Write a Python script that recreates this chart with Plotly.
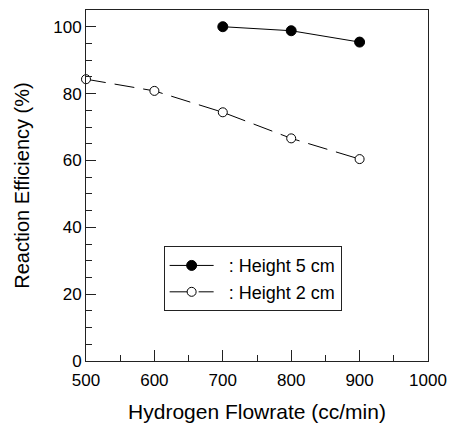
import plotly.graph_objects as go

flow_5cm = [700, 800, 900]
eff_5cm = [100.0, 98.8, 95.4]
flow_2cm = [500, 600, 700, 800, 900]
eff_2cm = [84.3, 80.8, 74.4, 66.6, 60.4]

FONT = "Liberation Sans, Arial, sans-serif"

fig = go.Figure()
fig.add_trace(go.Scatter(
    x=flow_5cm, y=eff_5cm, mode="lines+markers", name="  : Height 5 cm",
    line=dict(color="black", width=1),
    marker=dict(symbol="circle", size=10, color="black", line=dict(color="black", width=1)),
))
fig.add_trace(go.Scatter(
    x=flow_2cm, y=eff_2cm, mode="lines+markers", name="  : Height 2 cm",
    line=dict(color="black", width=1, dash="20px,9px"),
    marker=dict(symbol="circle", size=9, color="white", line=dict(color="black", width=1)),
    cliponaxis=False,
))

axis_common = dict(
    showgrid=False, zeroline=False, showline=True, linecolor="#222", linewidth=1,
    mirror=True, ticks="inside", tickcolor="#222", tickwidth=1,
    tickfont=dict(family=FONT, size=17, color="black"),
)
fig.update_xaxes(
    range=[500, 1000], dtick=100, ticklen=11, ticklabelstandoff=4,
    minor=dict(dtick=50, ticklen=6, ticks="inside", tickcolor="#222", showgrid=False),
    title=dict(text="Hydrogen Flowrate (cc/min)", standoff=14,
               font=dict(family=FONT, size=21, color="black")),
    **axis_common,
)
fig.update_yaxes(
    range=[0, 105], dtick=20, ticklen=10,
    minor=dict(dtick=5, ticklen=6, ticks="inside", tickcolor="#222", showgrid=False),
    title=dict(text="Reaction Efficiency (%)", standoff=18,
               font=dict(family=FONT, size=20, color="black")),
    **axis_common,
)
fig.update_layout(
    width=456, height=428,
    margin=dict(l=86, r=22, t=9, b=67),
    plot_bgcolor="white", paper_bgcolor="white",
    legend=dict(
        x=0.227, y=0.327, xanchor="left", yanchor="top",
        bordercolor="#222", borderwidth=1, bgcolor="white",
        font=dict(family=FONT, size=18, color="black"),
        tracegroupgap=0, itemwidth=44,
    ),
)
fig.write_html("out.html", config={"displayModeBar": False},
               post_script="document.body.style.margin='0';")
